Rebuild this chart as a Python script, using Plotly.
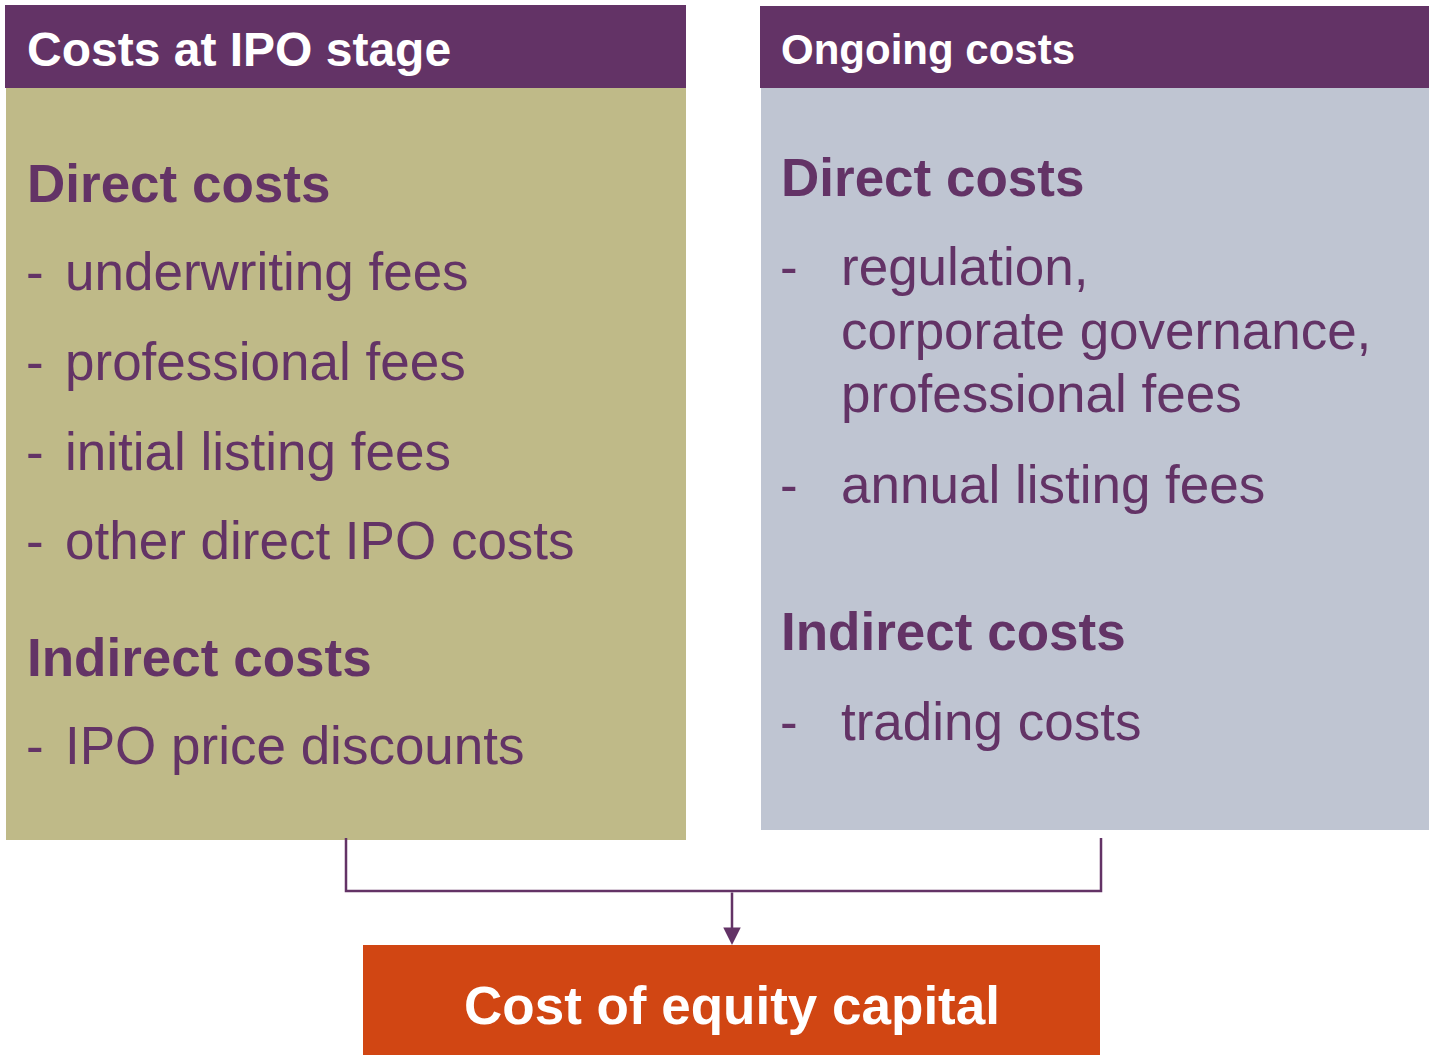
import plotly.graph_objects as go

# ---- content (text data) ----
left_title = "Costs at IPO stage"
right_title = "Ongoing costs"
direct_heading = "Direct costs"
indirect_heading = "Indirect costs"
left_direct_items = ["underwriting fees", "professional fees", "initial listing fees", "other direct IPO costs"]
left_indirect_items = ["IPO price discounts"]
right_direct_items = [["regulation,", "corporate governance,", "professional fees"], ["annual listing fees"]]
right_indirect_items = [["trading costs"]]
result_label = "Cost of equity capital"

# ---- style ----
PURPLE = "#633366"
KHAKI = "#BFBA88"
BLUEGREY = "#BFC5D2"
ORANGE = "#D14613"
FONT = "Liberation Sans, Arial, sans-serif"
W, H = 1429, 1055
FS = 53

fig = go.Figure()
fig.add_trace(go.Scatter(x=[0, W], y=[0, H], mode="markers", marker=dict(opacity=0), hoverinfo="skip", showlegend=False))

shapes = []
def rect(x0, y0, x1, y1, color):
    shapes.append(dict(type="rect", xref="x", yref="y", x0=x0, y0=y0, x1=x1, y1=y1,
                       fillcolor=color, line=dict(width=0), layer="below"))

# boxes
rect(6, 88, 686, 840, KHAKI)
rect(5, 5, 686, 88, PURPLE)
rect(761, 88, 1429, 830, BLUEGREY)
rect(760, 6, 1429, 88, PURPLE)
rect(363, 945, 1100, 1055, ORANGE)

# connector
shapes.append(dict(type="path", xref="x", yref="y",
                   path="M 346 838 L 346 891 L 1101 891 L 1101 838",
                   line=dict(color=PURPLE, width=2.5)))

annotations = []
def text(x, baseline, s, size=FS, color=PURPLE, bold=False, xanchor="left"):
    y = baseline - 0.3465 * size
    annotations.append(dict(x=x, y=y, xref="x", yref="y", text=("<b>%s</b>" % s) if bold else s,
                            showarrow=False, xanchor=xanchor, yanchor="middle",
                            font=dict(family=FONT, size=size, color=color), borderpad=0))

# headers
text(26, 66, left_title, size=48, color="white", bold=True)
text(780, 64, right_title, size=42, color="white", bold=True)

# left column
text(26, 202, direct_heading, bold=True)
left_baselines = [290, 380, 470, 559]
for item, b in zip(left_direct_items, left_baselines):
    text(25, b, "-")
    text(64, b, item)
text(26, 676, indirect_heading, bold=True)
for item, b in zip(left_indirect_items, [764]):
    text(25, b, "-")
    text(64, b, item)

# right column
text(780, 196, direct_heading, bold=True)
right_direct_baselines = [285, 503]
for lines, b in zip(right_direct_items, right_direct_baselines):
    text(779, b, "-")
    for i, ln in enumerate(lines):
        text(840, b + 63.5 * i, ln)
text(780, 650, indirect_heading, bold=True)
for lines, b in zip(right_indirect_items, [740]):
    text(779, b, "-")
    for i, ln in enumerate(lines):
        text(840, b + 63.5 * i, ln)

# result box label
text(731.5, 1024, result_label, color="white", bold=True, xanchor="center")

# arrow
annotations.append(dict(x=732, y=945, ax=732, ay=891, xref="x", yref="y", axref="x", ayref="y",
                        showarrow=True, arrowhead=2, arrowsize=1.4, arrowwidth=2.5,
                        arrowcolor=PURPLE, text="", standoff=0))

fig.update_layout(
    width=W, height=H, margin=dict(l=0, r=0, t=0, b=0),
    paper_bgcolor="white", plot_bgcolor="white",
    xaxis=dict(range=[0, W], visible=False, fixedrange=True),
    yaxis=dict(range=[H, 0], visible=False, fixedrange=True),
    shapes=shapes, annotations=annotations, showlegend=False,
)

fig.write_html("out.html", config={"displayModeBar": False},
               post_script="document.body.style.margin='0';document.body.style.overflow='hidden';")
